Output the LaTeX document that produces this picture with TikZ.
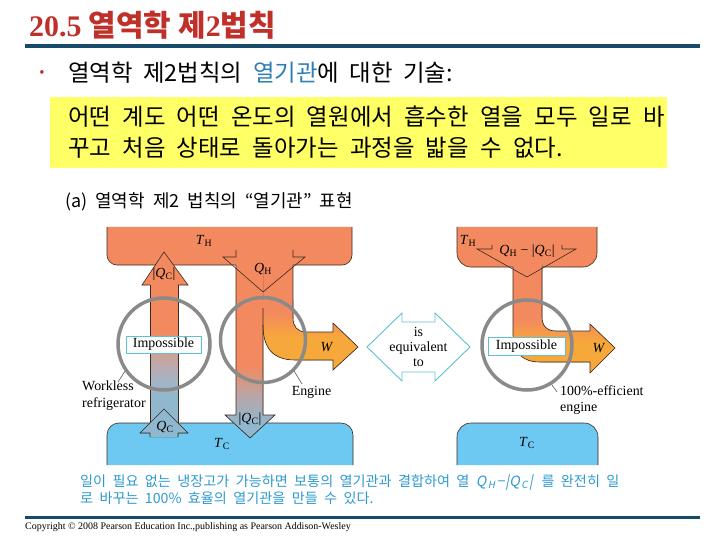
\documentclass[tikz,border=0pt]{standalone}
\usepackage{fontspec}
\setmainfont{Liberation Serif}
\newfontfamily\kr{Noto Sans CJK KR}
\newfontfamily\krit[FakeSlant=0.2]{Noto Sans CJK KR}
\usetikzlibrary{calc}
\definecolor{titlered}{HTML}{C0302A}
\definecolor{rulecol}{HTML}{174A6B}
\definecolor{kwblue}{HTML}{2F7DB5}
\definecolor{hiyel}{HTML}{FFFF66}
\definecolor{captblue}{HTML}{2E9AD0}
\definecolor{hot}{HTML}{F3895F}
\definecolor{cold}{HTML}{6DC9F1}
\definecolor{wcol}{HTML}{F7A83B}
\definecolor{midgrey}{HTML}{B8A6A8}
\definecolor{mauve}{HTML}{C9A39C}
\definecolor{bgrey}{HTML}{A6B4C4}
\definecolor{cgrey}{HTML}{8FB8CE}
\definecolor{ringgrey}{HTML}{8A8A8A}
\definecolor{tealbox}{HTML}{5FC0CF}
\definecolor{edge}{HTML}{3C2A20}
\pgfdeclareverticalshading{fridgeshade}{100bp}{color(0bp)=(cgrey); color(37bp)=(cgrey); color(44bp)=(bgrey); color(51.5bp)=(mauve); color(60bp)=(hot); color(100bp)=(hot)}
\pgfdeclareverticalshading{engshade}{100bp}{color(0bp)=(cgrey); color(29bp)=(cgrey); color(37bp)=(midgrey); color(46bp)=(hot); color(100bp)=(hot)}
\pgfdeclareverticalshading{wshadeA}{100bp}{color(0bp)=(wcol); color(48bp)=(wcol); color(66bp)=(hot); color(100bp)=(hot)}
\pgfdeclareverticalshading{wshadeB}{100bp}{color(0bp)=(wcol); color(39bp)=(wcol); color(50bp)=(hot); color(100bp)=(hot)}
\newcommand\qsym[2]{\textit{#1}\textsubscript{#2}}
\begin{document}
\begin{tikzpicture}[x=1bp,y=-1bp,
  edgeln/.style={draw=edge,line width=0.6bp},
  ring/.style={draw=ringgrey,line width=3.5bp,circle,inner sep=0pt},
  impbox/.style={draw=tealbox,fill=white,line width=0.9bp,minimum width=75bp,minimum height=17bp,inner sep=0pt,font=\fontsize{14}{14}\selectfont},
  lbl/.style={font=\fontsize{14}{16}\selectfont,inner sep=0pt},
  lead/.style={draw=edge!80,line width=0.6bp},
]
\useasboundingbox (0,0) rectangle (720,540);
\fill[white] (0,0) rectangle (720,540);
% header
\node[anchor=west,text=titlered,inner sep=0pt] (title) at (29,25) {\fontsize{30}{30}\selectfont\bfseries 20.5 {\kr 열역학 제}2{\kr 법칙}};
\draw[rulecol,line width=4bp] (25,46) -- (700,46);
\node[text=titlered,inner sep=0pt] (bul) at (42,74) {\fontsize{14}{14}\selectfont\kr •};
\node[anchor=west,inner sep=0pt] (head) at (68,73) {\fontsize{23.5}{23.5}\selectfont\kr\spaceskip=.45em 열역학 제2법칙의 {\color{kwblue}열기관}에 대한 기술:};
\fill[hiyel] (50,97) rectangle (667,168);
\node[anchor=west,inner sep=0pt,align=left,font={\fontsize{23.5}{31}\selectfont\kr\spaceskip=.48em\relax}] (law) at (68,132.5) {어떤 계도 어떤 온도의 열원에서 흡수한 열을 모두 일로 바\\꾸고 처음 상태로 돌아가는 과정을 밟을 수 없다.};
\node[anchor=west,inner sep=0pt] (sub) at (65,202) {\fontsize{18}{18}\selectfont\kr\spaceskip=.45em (a) 열역학 제2 법칙의 “열기관” 표현};
% reservoirs
\filldraw[fill=hot,edgeln,rounded corners=10bp] (107,227) -- (107,265) -- (352,265) -- (352,227);
\filldraw[fill=cold,edgeln,rounded corners=12bp] (107,465) -- (107,423) -- (353,423) -- (353,465);
\filldraw[fill=hot,edgeln,rounded corners=14bp] (457,227) -- (457,267) -- (597,267) -- (597,227);
\filldraw[fill=cold,edgeln,rounded corners=14bp] (457,465) -- (457,423) -- (598,423) -- (598,465);
% workless refrigerator
\fill[shading=fridgeshade] (150,285) -- (150,423) -- (140,433) -- (150,433) -- (150,437) -- (178,437) -- (178,433) -- (188,433) -- (178,423) -- (178,285) -- cycle;
\filldraw[fill=hot,edgeln] (150,285) -- (142,285) -- (164,252) -- (188,285) -- (178,285);
\draw[edgeln] (150,285) -- (150,423);
\draw[edgeln] (178,285) -- (178,423);
\draw[edgeln] (150,437) -- (150,433) -- (140,433) -- (164,409) -- (188,433) -- (178,433) -- (178,437);
% engine
\fill[hot] (236,264) rectangle (293,310);
\fill[shading=engshade] (236,264) -- (236,415) -- (225,415) -- (250,438) -- (275,415) -- (263,415) -- (263,264) -- cycle;
\fill[shading=wshadeA] (263,300) -- (263,325) .. controls (263,348) and (273,360) .. (295,360) -- (333,360) -- (333,370) -- (358,347) -- (333,323) -- (333,332) -- (306,332) .. controls (297,332) and (293,326) .. (293,318) -- (293,300) -- cycle;
\draw[edgeln] (236,265) -- (236,415) -- (225,415) -- (250,438) -- (275,415) -- (263,415) -- (263,308);
\draw[edgeln] (263,325) .. controls (263,348) and (273,360) .. (295,360) -- (333,360) -- (333,370) -- (358,347) -- (333,323) -- (333,332) -- (306,332) .. controls (297,332) and (293,326) .. (293,318) -- (293,265);
\draw[edgeln] (236,250) -- (236,257) -- (223,257) -- (263,292) -- (305,257) -- (293,257) -- (293,250);
% 100% engine
\fill[shading=wshadeB] (513,264) -- (513,335) .. controls (513,352) and (522,362) .. (540,362) -- (590,362) -- (590,373) -- (615,348) -- (590,324) -- (590,331) -- (556,331) .. controls (547,331) and (542,326) .. (542,317) -- (542,264) -- cycle;
\draw[edgeln] (513,267) -- (513,335) .. controls (513,352) and (522,362) .. (540,362) -- (590,362) -- (590,373) -- (615,348) -- (590,324) -- (590,331) -- (556,331) .. controls (547,331) and (542,326) .. (542,317) -- (542,267);
\draw[edgeln] (492,245) -- (492,249) -- (477,249) -- (527,277) -- (576,249) -- (562,249) -- (562,245);
% equivalence arrow
\filldraw[fill=white,draw=tealbox,line width=0.9bp] (367,347) -- (402,313) -- (402,322) -- (435,322) -- (435,313) -- (470,347) -- (435,381) -- (435,372) -- (402,372) -- (402,381) -- cycle;
\node[inner sep=0pt,align=center,font=\fontsize{14}{15.5}\selectfont] (eq) at (418.5,347) {is\\equivalent\\to};
% circles
\node[ring,minimum size=92bp] (c1) at (164,344) {};
\node[ring,minimum size=85bp] (c2) at (263,340) {};
\node[ring,minimum size=90bp] (c3) at (527,345) {};
\node[impbox] (imp1) at (163.5,344.5) {Impossible};
\node[impbox,minimum width=77bp,minimum height=18bp] (imp2) at (526.5,346) {Impossible};
% labels
\node[lbl] (th1) at (204,241) {\qsym{T}{H}};
\node[lbl] (qh1) at (263,269) {\qsym{Q}{H}};
\node[lbl] (qc1) at (164,274) {|\qsym{Q}{C}|};
\node[lbl] (qc2) at (165,427) {\qsym{Q}{C}};
\node[lbl] (qc3) at (250,419) {|\qsym{Q}{C}|};
\node[lbl] (tc1) at (222,444) {\qsym{T}{C}};
\node[lbl] (w1) at (327,347) {\textit{W}};
\node[lbl] (th2) at (468,241) {\qsym{T}{H}};
\node[lbl] (qhc) at (527,251) {\qsym{Q}{H} − |\qsym{Q}{C}|};
\node[lbl] (w2) at (599,348) {\textit{W}};
\node[lbl] (tc2) at (527,443) {\qsym{T}{C}};
\node[lbl,anchor=north west,align=left,font=\fontsize{14}{16.5}\selectfont] (wl) at (82,381) {Workless\\refrigerator};
\node[lbl] (eng) at (311.5,392) {Engine};
\node[lbl,anchor=north west,align=left,font=\fontsize{14}{17}\selectfont] (eff) at (560,385) {100\%-efficient\\engine};
\coordinate (wlend) at (118,382);
\coordinate (engend) at (302,384);
\coordinate (effend) at (557,392);
\draw[lead] (c1.215) -- (wlend);
\draw[lead] (c2.-45) -- (engend);
\draw[lead] (c3.-58) -- (effend);
% caption
\node[anchor=west,inner sep=0pt,align=left,text=captblue,font={\fontsize{14.2}{17}\selectfont\kr\spaceskip=.45em\relax}] (cap) at (80,489.5) {일이 필요 없는 냉장고가 가능하면 보통의 열기관과 결합하여 열 {\krit Q\kern1.5pt\textsubscript{H}\kern1pt−\kern1pt|Q\kern1.5pt\textsubscript{C}\kern1pt|}\, 를 완전히 일\\로 바꾸는 100\% 효율의 열기관을 만들 수 있다.};
\draw[rulecol,line width=3bp] (25,517) -- (700,517);
\node[anchor=west,inner sep=0pt] (copy) at (25,527.5) {\fontsize{10}{10}\selectfont Copyright © 2008 Pearson Education Inc.,publishing as Pearson Addison-Wesley};
\end{tikzpicture}
\end{document}
